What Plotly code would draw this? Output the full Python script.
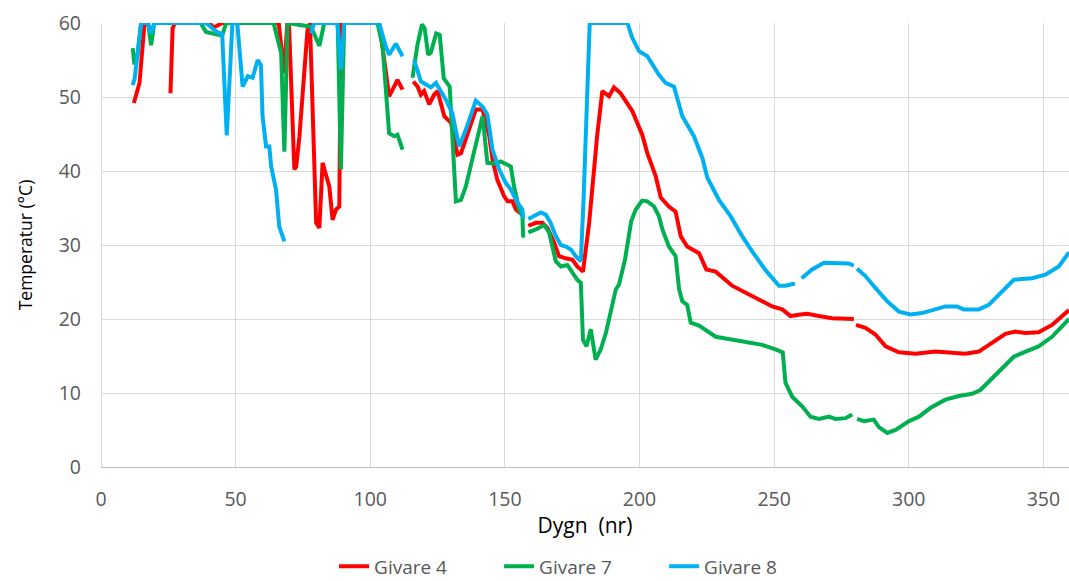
import plotly.graph_objects as go

N = None

# Givare 4 (red)
days_g4 = [12.2, 13.1, 14.3, 16.1, 17.5, N,
           25.8, 26.6, 27.5, 40.0, 42.0, 45.0, 66.0, 68.0, 69.2, 69.8, 71.8, 72.5, 73.7, 76.7, 77.6,
           79.9, 81.1, 82.3, 84.8, 86.0, 87.3, 88.5, 89.1, 103.3, 105.2, 107.0, 108.3, 110.1, 112.0, N,
           116.0, 117.6, 118.8, 120.0, 121.9, 123.7, 125.0, 127.5, 130.0, 132.4, 133.7, 136.7, 139.2,
           141.7, 144.2, 145.4, 147.2, 149.7, 151.0, 152.8, 154.1, 156.5, N,
           158.7, 161.5, 163.9, 165.8, 168.3, 170.1, 172.6, 175.1, 176.9, 179.0, 181.3, 182.5, 184.3,
           186.2, 188.7, 190.5, 193.0, 197.3, 199.2, 201.0, 202.9, 206.0, 207.9, 210.9, 213.4, 215.3,
           217.7, 222.1, 224.8, 228.3, 234.4, 241.9, 249.3, 253.0, 256.1, 259.8, 262.3, 266.6, 271.5,
           279.6, N,
           280.4, 283.9, 287.6, 291.4, 296.3, 302.5, 309.9, 316.1, 321.0, 326.0, 329.7, 335.9, 339.6,
           343.3, 348.2, 353.2, 359.5]
temp_g4 = [49.2, 50.5, 51.9, 59.7, 60.0, N,
           50.5, 59.3, 60.0, 60.0, 59.4, 60.0, 60.0, 53.2, 60.0, 60.0, 40.2, 40.6, 44.7, 59.1, 60.0,
           33.0, 32.3, 41.1, 37.9, 33.4, 34.8, 35.2, 60.0, 60.0, 55.0, 50.1, 51.0, 52.3, 51.0, N,
           52.1, 51.4, 50.3, 50.8, 49.0, 50.3, 50.8, 47.4, 46.5, 42.2, 42.4, 45.6, 48.3,
           48.3, 44.7, 41.5, 38.8, 36.6, 35.9, 35.9, 34.8, 34.1, N,
           32.6, 33.0, 33.0, 32.3, 30.3, 28.5, 28.2, 28.0, 27.1, 26.4, 33.0, 38.4, 44.9,
           50.8, 50.1, 51.3, 50.5, 48.1, 46.3, 44.9, 42.4, 39.3, 36.4, 35.2, 34.5, 31.2,
           29.8, 28.9, 26.7, 26.4, 24.5, 23.1, 21.7, 21.3, 20.4, 20.6, 20.7, 20.4, 20.1,
           20.0, N,
           19.2, 18.8, 17.9, 16.3, 15.5, 15.3, 15.6, 15.5, 15.3, 15.6, 16.5, 18.0, 18.3,
           18.1, 18.2, 19.2, 21.2]

# Givare 7 (green)
days_g7 = [11.8, 12.4, 13.5, 14.9, 17.5, 18.6, 19.8, 37.0, 39.0, 45.0, 46.5, 64.1, 66.9, 68.1,
           69.3, 78.0, 81.1, 82.9, 87.9, 89.1, 90.3, 102.7, 104.6, 105.8, 107.0, 108.9, 110.1, 112.0, N,
           115.7, 117.5, 119.2, 120.2, 121.5, 122.5, 124.5, 125.8, 127.3, 129.5, 131.8, 133.7, 135.5,
           138.6, 140.4, 141.7, 143.5, 146.6, 148.5, 150.3, 152.2, 153.4, 155.3, 156.5, 156.8, N,
           158.7, 161.5, 164.6, 166.4, 168.9, 170.8, 173.2, 175.1, 176.9, 178.2, 179.0, 180.3, 181.9,
           183.7, 185.6, 187.5, 189.3, 191.2, 192.4, 194.6, 196.9, 198.6, 201.0, 202.9, 205.4, 207.2,
           208.5, 210.9, 213.4, 214.7, 215.9, 217.7, 219.0, 222.1, 228.3, 234.4, 239.4, 245.6, 250.5,
           253.2, 254.2, 256.7, 260.4, 263.5, 266.6, 270.3, 272.8, 276.5, 279.0, N,
           280.8, 283.3, 287.0, 288.9, 292.0, 295.1, 300.1, 303.8, 308.1, 313.6, 318.6, 323.5, 326.6,
           330.9, 334.6, 339.0, 342.7, 348.2, 353.2, 359.5]
temp_g7 = [56.6, 54.4, 55.5, 60.0, 60.0, 57.0, 60.0, 60.0, 58.8, 58.3, 60.0, 60.0, 55.9, 42.6,
           60.0, 59.5, 56.9, 60.0, 60.0, 40.2, 60.0, 60.0, 56.8, 50.1, 45.1, 44.7, 44.9, 42.9, N,
           52.6, 57.0, 59.8, 59.3, 55.7, 56.0, 58.6, 58.4, 52.5, 51.4, 35.9, 36.1, 37.9,
           42.9, 45.6, 47.4, 41.1, 41.0, 41.3, 40.9, 40.6, 37.9, 34.8, 33.9, 31.0, N,
           31.7, 32.1, 32.7, 31.7, 27.8, 27.1, 27.3, 26.2, 25.3, 24.9, 17.2, 16.3, 18.6,
           14.5, 15.9, 18.1, 20.8, 24.0, 24.7, 28.0, 33.2, 34.8, 36.0, 35.9, 35.2, 33.9,
           32.1, 29.8, 28.5, 24.0, 22.4, 21.9, 19.5, 19.1, 17.6, 17.2, 17.0, 16.5, 15.9,
           15.5, 11.4, 9.5, 8.2, 6.8, 6.5, 6.8, 6.5, 6.6, 7.1, N,
           6.5, 6.2, 6.4, 5.4, 4.6, 5.0, 6.2, 6.8, 8.0, 9.1, 9.6, 9.9, 10.4,
           12.0, 13.4, 14.9, 15.5, 16.3, 17.6, 20.0]

# Givare 8 (blue)
days_g8 = [11.8, 12.5, 14.9, 17.5, 18.6, 19.8, 39.0, 43.0, 45.0, 46.7, 48.8, 50.6, 52.6, 54.5,
           56.3, 58.2, 59.4, 60.0, 61.3, 62.5, 63.2, 65.0, 66.2, 68.1, N,
           78.0, 79.2, 87.8, 89.1, 90.3, 103.3, 105.8, 107.0, 109.5, 112.0, N,
           116.3, 118.8, 120.7, 122.5, 124.4, 126.8, 128.1, 130.5, 133.0, 135.5, 139.2, 141.7, 143.5,
           145.4, 147.9, 150.3, 152.2, 154.7, 156.5, 156.8, N,
           158.7, 160.9, 163.3, 165.2, 167.0, 168.9, 170.8, 172.6, 174.5, 176.3, 178.2, 179.2, 180.3,
           181.5, 195.5, 197.3, 199.8, 202.9, 207.2, 209.7, 212.8, 215.9, 220.2, 223.3, 225.2, 229.5,
           233.8, 238.1, 241.9, 246.8, 251.8, 254.2, 257.7, N,
           260.2, 264.1, 268.5, 272.8, 277.7, 279.6, N,
           280.8, 283.9, 287.6, 292.0, 296.3, 300.6, 304.9, 309.9, 313.6, 317.9, 320.4, 326.0, 329.7,
           334.6, 339.0, 345.8, 350.7, 355.7, 359.5]
temp_g8 = [51.6, 52.5, 60.0, 60.0, 58.6, 60.0, 60.0, 58.8, 58.5, 44.8, 60.0, 60.0, 51.4, 52.8,
           52.6, 55.0, 54.3, 47.4, 43.3, 43.3, 40.6, 37.5, 32.5, 30.5, N,
           58.6, 60.0, 60.0, 53.7, 60.0, 60.0, 56.8, 55.7, 57.2, 55.5, N,
           55.0, 52.1, 51.7, 51.3, 51.9, 50.5, 49.6, 47.8, 43.3, 45.6, 49.5, 48.7, 47.6,
           42.9, 40.2, 38.4, 37.5, 35.7, 34.8, 33.6, N,
           33.5, 33.9, 34.4, 34.1, 33.0, 31.2, 30.0, 29.8, 29.4, 28.5, 27.8, 36.0, 48.0,
           60.0, 60.0, 58.0, 56.2, 55.5, 53.0, 51.9, 51.4, 47.4, 44.7, 41.8, 39.1, 36.1,
           33.9, 31.2, 29.1, 26.6, 24.5, 24.5, 24.8, N,
           25.5, 26.7, 27.6, 27.6, 27.5, 27.2, N,
           26.8, 25.8, 24.2, 22.4, 21.0, 20.6, 20.8, 21.3, 21.7, 21.7, 21.3, 21.3, 21.9,
           23.7, 25.3, 25.5, 26.0, 27.1, 29.0]

series_names = ["Givare 4", "Givare 7", "Givare 8"]
series_colors = ["#FF0000", "#00B050", "#00B0F0"]
x_ticks = [0, 50, 100, 150, 200, 250, 300, 350]
y_ticks = [0, 10, 20, 30, 40, 50, 60]

FONT = "'Open Sans', sans-serif"
fig = go.Figure()
for name, color, xs, ys in zip(series_names, series_colors,
                               [days_g4, days_g7, days_g8], [temp_g4, temp_g7, temp_g8]):
    fig.add_trace(go.Scatter(x=xs, y=ys, mode="lines", name=name, connectgaps=False,
                             line=dict(color=color, width=4)))

fig.update_layout(
    width=1069, height=581,
    margin=dict(l=101, r=0, t=23, b=114),
    paper_bgcolor="white", plot_bgcolor="white",
    font=dict(family=FONT, size=19, color="#595959"),
    showlegend=True,
    legend=dict(orientation="h", xref="container", x=0.3125, xanchor="left",
                yref="container", y=0.025, yanchor="middle",
                entrywidth=120, entrywidthmode="pixels",
                font=dict(family=FONT, size=19, color="#595959"),
                tracegroupgap=0),
)
fig.update_xaxes(
    range=[0, 359.5], tickvals=x_ticks, ticktext=[str(v) for v in x_ticks],
    showgrid=True, gridcolor="#D9D9D9", gridwidth=1,
    zeroline=True, zerolinecolor="#D9D9D9", zerolinewidth=1,
    showline=True, linecolor="#BFBFBF", linewidth=1.2,
    ticks="", ticklabelstandoff=14, automargin=False,
    tickfont=dict(family=FONT, size=19.5, color="#595959"),
    title=dict(text="Dygn\u00a0 (nr)", font=dict(family=FONT, size=21, color="black"), standoff=6),
)
fig.update_yaxes(
    range=[0, 60], tickvals=y_ticks, ticktext=[str(v) for v in y_ticks],
    showgrid=True, gridcolor="#D9D9D9", gridwidth=1,
    zeroline=False, showline=False,
    ticks="", ticklabelstandoff=19, automargin=False,
    tickfont=dict(family=FONT, size=19.5, color="#595959"),
    title=dict(text="Temperatur (°C)", font=dict(family=FONT, size=17.5, color="black"), standoff=21),
)

fig.write_html("out.html")
